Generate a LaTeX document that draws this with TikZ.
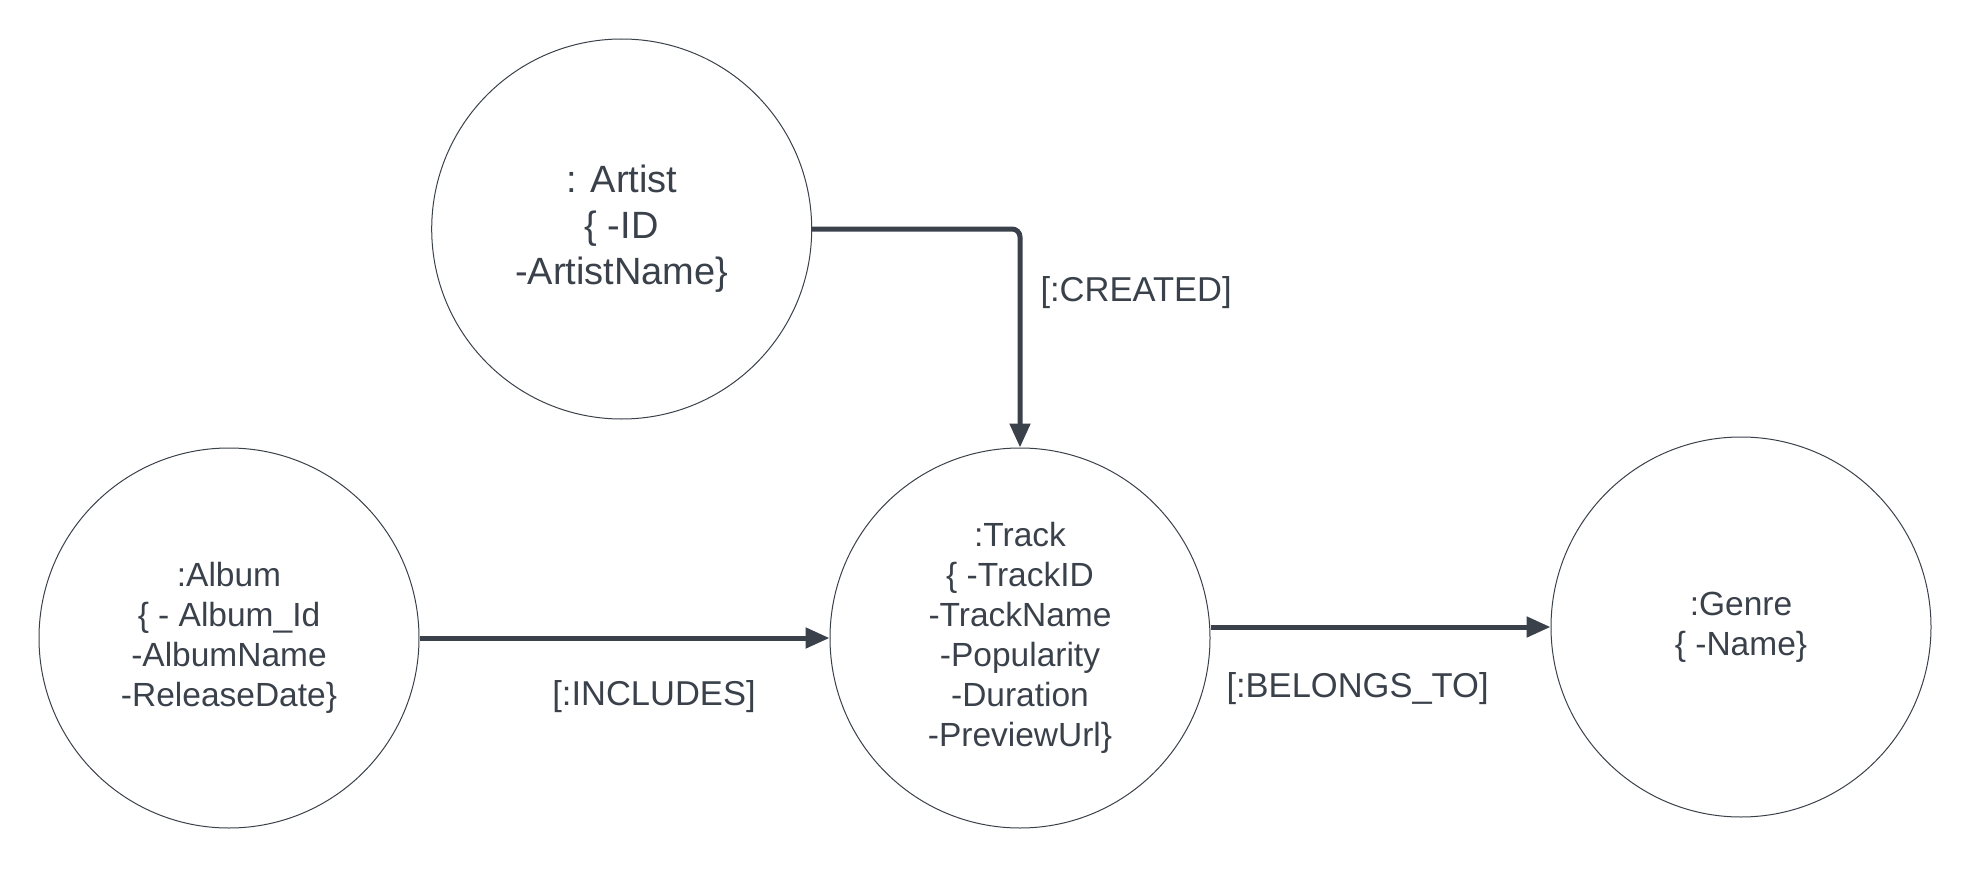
\documentclass[tikz,border=0pt]{standalone}
\usepackage{fontspec}
\setmainfont{Liberation Sans}
\usepackage{xcolor}
\usetikzlibrary{arrows.meta}
\definecolor{lcInk}{HTML}{3A414A}

\begin{document}
\begin{tikzpicture}[x=1pt, y=-1pt,
  every node/.style={align=center, text=lcInk, font=\fontsize{33.5}{40}\selectfont},
  entity/.style={circle, draw=lcInk, line width=1pt, minimum size=380pt, inner sep=0pt},
  rel/.style={-{Triangle[length=24pt,width=20pt]}, line width=5pt, lcInk, rounded corners=8pt},
  tag/.style={font=\fontsize{34.5}{41}\selectfont},
]
  \useasboundingbox (0,0) rectangle (1972,869);
  \node[entity, font=\fontsize{38}{46}\selectfont] (artist) at (621.7,229) {: Artist\\\{ -ID\\-ArtistName\}};
  \node[entity] (album) at (229,638) {:Album\\\{ - Album\_Id\\-AlbumName\\-ReleaseDate\}};
  \node[entity] (track) at (1020,638) {:Track\\\{ -TrackID\\-TrackName\\-Popularity\\-Duration\\-PreviewUrl\}};
  \node[entity] (genre) at (1741,627) {:Genre\\\{ -Name\}};
  \node[tag, anchor=base west] (created) at (1037,301.7) {[:CREATED]};
  \node[tag, anchor=base] (includes) at (654,705) {[:INCLUDES]};
  \node[tag, anchor=base west] (belongs) at (1223,697) {[:BELONGS\_TO]};
  \draw[rel] (artist.east) -| (track.north);
  \draw[rel] (album.east) -- (track.west);
  \draw[rel] (track.east |- genre.west) -- (genre.west);
\end{tikzpicture}
\end{document}
